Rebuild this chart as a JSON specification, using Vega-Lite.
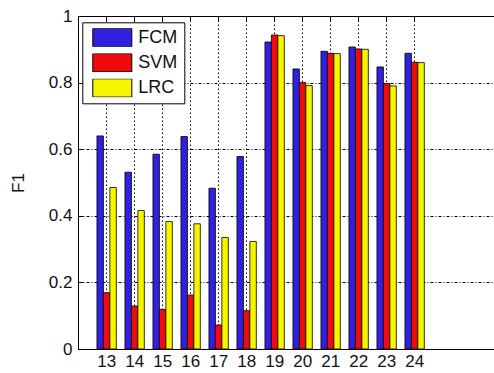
{
  "$schema": "https://vega.github.io/schema/vega-lite/v6.json",
  "width": 416,
  "height": 333,
  "autosize": {"type": "none"},
  "padding": {"left": 78, "top": 16, "right": 0, "bottom": 24},
  "background": "white",
  "config": {"view": {"stroke": null}, "font": "Liberation Sans"},
  "data": {"values": [
    {"n": "13", "method": "FCM", "v": 0.64}, {"n": "13", "method": "SVM", "v": 0.169}, {"n": "13", "method": "LRC", "v": 0.485},
    {"n": "14", "method": "FCM", "v": 0.531}, {"n": "14", "method": "SVM", "v": 0.129}, {"n": "14", "method": "LRC", "v": 0.416},
    {"n": "15", "method": "FCM", "v": 0.585}, {"n": "15", "method": "SVM", "v": 0.119}, {"n": "15", "method": "LRC", "v": 0.383},
    {"n": "16", "method": "FCM", "v": 0.638}, {"n": "16", "method": "SVM", "v": 0.162}, {"n": "16", "method": "LRC", "v": 0.376},
    {"n": "17", "method": "FCM", "v": 0.483}, {"n": "17", "method": "SVM", "v": 0.072}, {"n": "17", "method": "LRC", "v": 0.335},
    {"n": "18", "method": "FCM", "v": 0.578}, {"n": "18", "method": "SVM", "v": 0.115}, {"n": "18", "method": "LRC", "v": 0.323},
    {"n": "19", "method": "FCM", "v": 0.922}, {"n": "19", "method": "SVM", "v": 0.943}, {"n": "19", "method": "LRC", "v": 0.941},
    {"n": "20", "method": "FCM", "v": 0.841}, {"n": "20", "method": "SVM", "v": 0.8}, {"n": "20", "method": "LRC", "v": 0.791},
    {"n": "21", "method": "FCM", "v": 0.894}, {"n": "21", "method": "SVM", "v": 0.888}, {"n": "21", "method": "LRC", "v": 0.887},
    {"n": "22", "method": "FCM", "v": 0.907}, {"n": "22", "method": "SVM", "v": 0.901}, {"n": "22", "method": "LRC", "v": 0.9},
    {"n": "23", "method": "FCM", "v": 0.847}, {"n": "23", "method": "SVM", "v": 0.797}, {"n": "23", "method": "LRC", "v": 0.79},
    {"n": "24", "method": "FCM", "v": 0.888}, {"n": "24", "method": "SVM", "v": 0.861}, {"n": "24", "method": "LRC", "v": 0.86}
  ]},
  "resolve": {"axis": {"x": "independent", "y": "independent"}},
  "layer": [
    {
      "mark": {"type": "bar", "stroke": "black", "strokeWidth": 0.8},
      "encoding": {
        "x": {
          "field": "n", "type": "ordinal",
          "scale": {"domain": ["13","14","15","16","17","18","19","20","21","22","23","24","25","26"], "paddingInner": 0, "paddingOuter": 0.4286, "align": 0.61},
          "axis": {
            "orient": "bottom", "title": null, "values": ["13","14","15","16","17","18","19","20","21","22","23","24"],
            "labelAngle": 0, "labelFontSize": 17, "labelColor": "#111118", "labelPadding": 4, "ticks": false,
            "domain": true, "domainColor": "black", "domainWidth": 1,
            "grid": true, "gridColor": "black", "gridDash": [1.5, 2.5], "gridWidth": 1, "gridOpacity": 1
          }
        },
        "xOffset": {"field": "method", "type": "nominal", "scale": {"domain": ["FCM", "SVM", "LRC"], "paddingInner": 0, "paddingOuter": 0.67}},
        "y": {
          "field": "v", "type": "quantitative",
          "scale": {"domain": [0, 1], "nice": false},
          "axis": {
            "title": "F1", "titleFontSize": 17, "titleFontWeight": "normal", "titleColor": "#111118", "titlePadding": 21,
            "values": [0, 0.2, 0.4, 0.6, 0.8, 1], "format": "~g",
            "labelFontSize": 17, "labelColor": "#111118", "labelPadding": 11, "tickSize": -5, "tickColor": "black",
            "domain": true, "domainColor": "black", "domainWidth": 1,
            "grid": true, "gridColor": "black", "gridDash": [3, 2, 1, 2], "gridWidth": 1, "gridOpacity": 1
          }
        },
        "color": {
          "field": "method", "type": "nominal",
          "scale": {"domain": ["FCM", "SVM", "LRC"], "range": ["#3020e0", "#f00a0a", "#f5f500"]},
          "legend": {
            "orient": "none", "legendX": 4.3, "legendY": 6.3, "title": null,
            "symbolType": "M-1,-0.47H1V0.47H-1Z", "symbolSize": 1521, "symbolStrokeColor": "black", "symbolStrokeWidth": 1,
            "symbolOpacity": 1, "clipHeight": 18.5, "rowPadding": 6.2,
            "labelFontSize": 18, "labelColor": "#111118", "labelOffset": 6, "padding": 6, "symbolOffset": 4,
            "strokeColor": "black", "fillColor": "white"
          }
        }
      }
    },
    {
      "mark": {"type": "bar", "opacity": 0},
      "encoding": {
        "x": {
          "field": "n", "type": "ordinal",
          "scale": {"domain": ["13","14","15","16","17","18","19","20","21","22","23","24","25","26"], "paddingInner": 0, "paddingOuter": 0.4286, "align": 0.61},
          "axis": {
            "orient": "top", "title": null, "values": ["13","14","15","16","17","18","19","20","21","22","23","24"],
            "labels": false, "ticks": true, "tickSize": -5, "tickColor": "black",
            "domain": true, "domainColor": "black", "domainWidth": 1, "grid": false
          }
        },
        "y": {"field": "v", "type": "quantitative", "axis": null}
      }
    }
  ]
}
